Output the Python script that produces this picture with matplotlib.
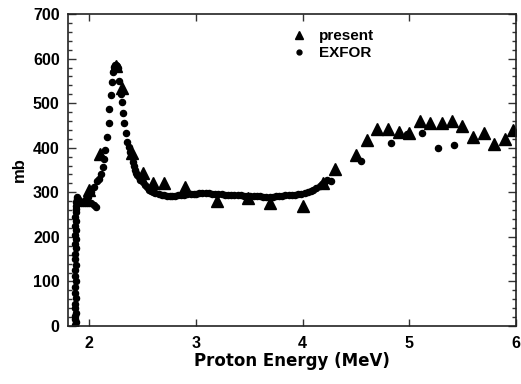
import matplotlib
matplotlib.use('Agg')
import matplotlib.pyplot as plt
from matplotlib.ticker import MultipleLocator

plt.rcParams['font.family'] = 'Liberation Sans'
plt.rcParams['font.weight'] = 'bold'

#present calculation (triangles)
present_e = [2.00, 2.10, 2.25, 2.31, 2.40, 2.50, 2.60, 2.70, 2.90, 3.20,
             3.49, 3.69, 4.00, 4.19, 4.30, 4.50, 4.60, 4.70, 4.80, 4.90,
             5.00, 5.10, 5.20, 5.31, 5.40, 5.50, 5.60, 5.70, 5.80, 5.90, 5.97]
present_mb = [305, 386, 583, 534, 388, 343, 321, 321, 312, 280,
              287, 276, 269, 321, 352, 384, 417, 442, 442, 435,
              433, 460, 455, 455, 460, 449, 424, 433, 408, 419, 440]

#EXFOR data (dots)
exfor_e = [1.866, 1.870, 1.874, 1.866, 1.870, 1.874, 1.866, 1.870, 1.874, 1.866,
           1.870, 1.874, 1.866, 1.870, 1.874, 1.866, 1.870, 1.874, 1.868, 1.872,
           1.868, 1.872, 1.868, 1.872, 1.870, 1.874, 1.872, 1.876, 1.878, 1.882,
           1.886,
           1.89, 1.90, 1.92, 1.94, 1.96, 1.98, 2.00, 2.02, 2.04, 2.06,
           1.96, 1.99, 2.02, 2.04, 2.07, 2.09, 2.11, 2.13, 2.14,
           2.15, 2.17, 2.18, 2.185, 2.20, 2.21, 2.22, 2.23, 2.24, 2.25,
           2.26, 2.27, 2.28, 2.30, 2.31, 2.32, 2.33, 2.34, 2.35, 2.37,
           2.38, 2.40, 2.41, 2.42, 2.43, 2.44, 2.45, 2.47, 2.48, 2.50,
           2.52, 2.54, 2.56, 2.58, 2.60, 2.62, 2.65, 2.68, 2.70, 2.73,
           2.76, 2.78, 2.80, 2.83, 2.86, 2.89, 2.92, 2.95, 2.98, 3.00,
           3.03, 3.06, 3.09, 3.12, 3.15, 3.18, 3.21, 3.24, 3.27, 3.30,
           3.33, 3.36, 3.39, 3.42, 3.45, 3.48, 3.51, 3.54, 3.57, 3.60,
           3.63, 3.66, 3.69, 3.72, 3.75, 3.78, 3.81, 3.84, 3.87, 3.90,
           3.93, 3.96, 3.99, 4.02, 4.05, 4.08, 4.10, 4.13, 4.16, 4.18,
           4.20, 4.23, 4.27,
           4.55, 4.83, 4.98, 5.12, 5.27, 5.42]
exfor_mb = [0, 3, 8, 15, 22, 30, 40, 50, 62, 75,
            88, 100, 112, 125, 138, 150, 162, 175, 185, 195,
            205, 215, 225, 235, 245, 255, 262, 270, 278, 285,
            290,
            284, 280, 277, 276, 275, 275, 276, 275, 272, 268,
            282, 290, 300, 312, 325, 330, 340, 357, 375,
            395, 424, 455, 487, 518, 548, 570, 581, 585, 586,
            583, 580, 550, 520, 503, 478, 455, 433, 413, 402,
            390, 380, 368, 358, 350, 343, 338, 334, 328, 322,
            317, 312, 306, 302, 300, 298, 296, 294, 293, 292,
            292, 292, 292, 293, 294, 295, 296, 297, 297, 297,
            298, 298, 298, 298, 297, 296, 296, 296, 295, 295,
            294, 294, 293, 293, 292, 292, 292, 291, 291, 291,
            290, 290, 290, 290, 291, 291, 292, 293, 293, 294,
            295, 296, 297, 299, 300, 302, 305, 310, 315, 318,
            320, 328, 325,
            370, 411, 431, 433, 399, 406]

fig = plt.figure(figsize=(5.21, 3.84), dpi=100)
ax = fig.add_axes([0.1305, 0.151, 0.8595, 0.8125])

#triangles for present work
ax.plot(present_e, present_mb, linestyle='none', marker='^', markersize=8,
        color='black', label='present')
#dots for EXFOR
ax.plot(exfor_e, exfor_mb, linestyle='none', marker='o', markersize=4.4,
        color='black', label='EXFOR')

ax.set_xlim(1.8, 6)
ax.set_ylim(0, 700)
ax.xaxis.set_major_locator(MultipleLocator(1))
ax.yaxis.set_major_locator(MultipleLocator(100))
ax.yaxis.set_minor_locator(MultipleLocator(20))
ax.tick_params(axis='both', which='both', direction='in', top=True, right=True,
               labelsize=11.5, width=1, color='#333333')
ax.tick_params(axis='x', which='major', length=5, pad=7)
ax.tick_params(axis='y', which='major', length=6, pad=6)
ax.tick_params(axis='y', which='minor', length=3)
for s in ax.spines.values():
    s.set_color('#222222')
    s.set_linewidth(1.2)

ax.set_xlabel('Proton Energy (MeV)', fontsize=12, fontweight='bold',
              family='DejaVu Sans', labelpad=1)
ax.set_ylabel('mb', fontsize=12, fontweight='bold', labelpad=4)

ax.legend(loc='upper left', bbox_to_anchor=(0.455, 0.99), frameon=False,
          fontsize=11, handletextpad=0.3, borderpad=0.3, labelspacing=0.2,
          markerscale=0.8)

plt.savefig('out.png', dpi=100)
